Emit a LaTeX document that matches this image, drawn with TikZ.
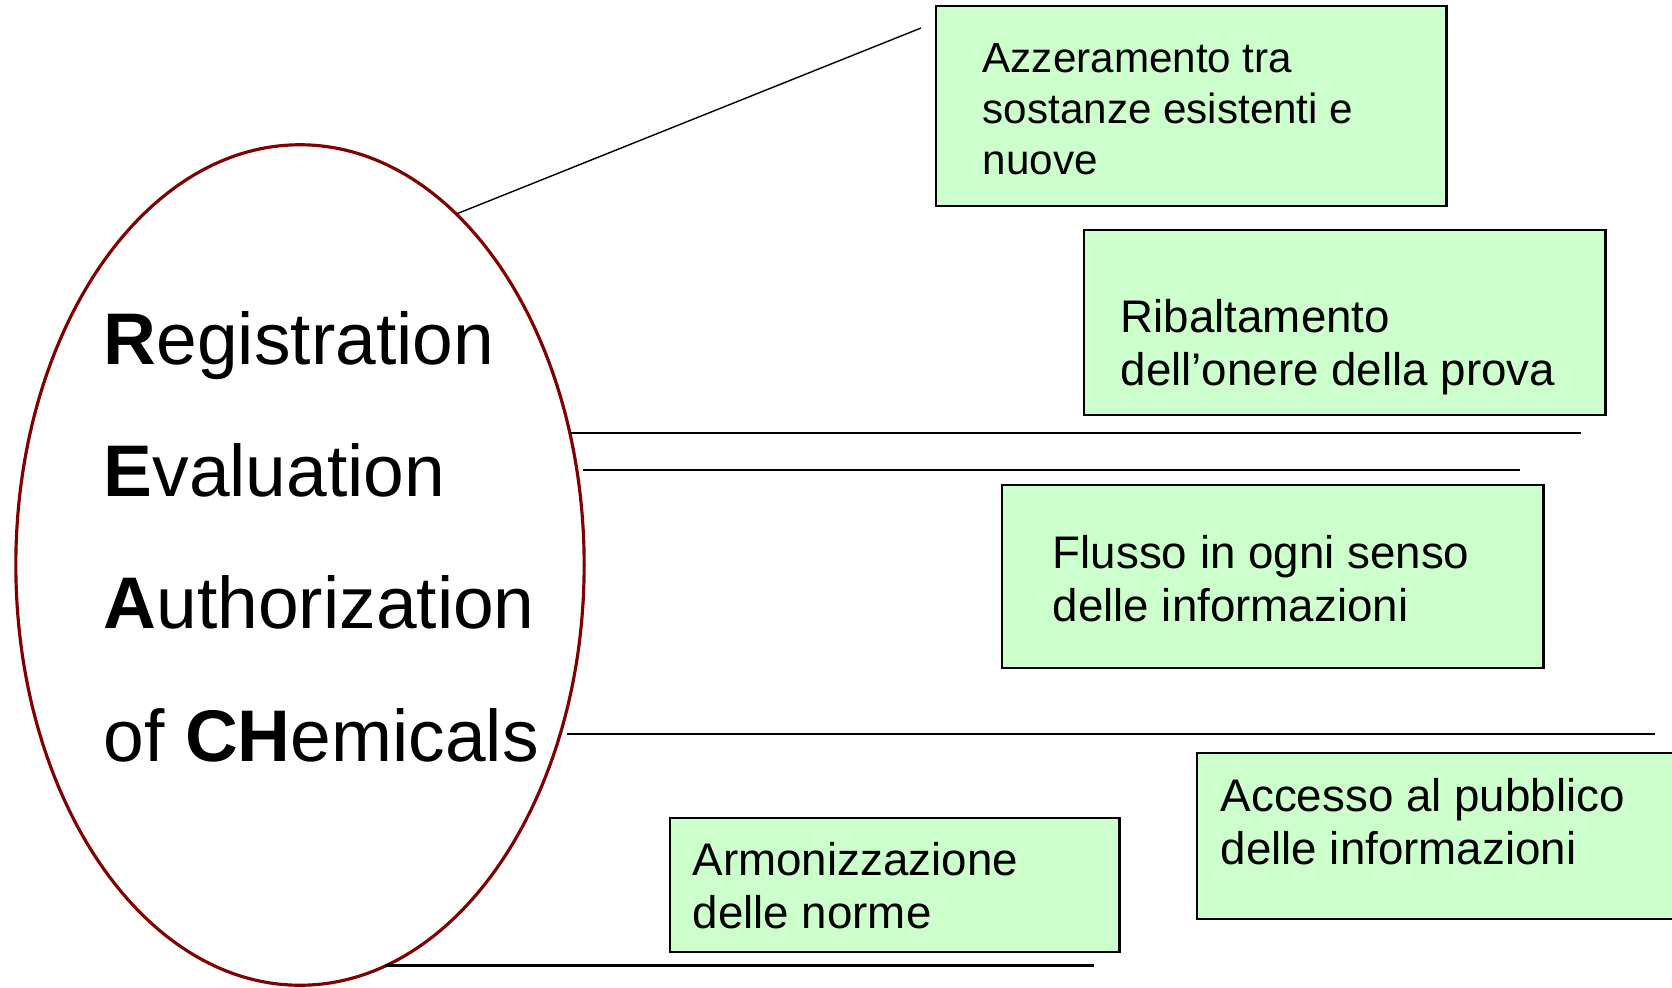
\documentclass[tikz,border=0pt]{standalone}
\usepackage{fontspec}
\setmainfont{Liberation Sans}
\usetikzlibrary{shapes.geometric}
\definecolor{boxgreen}{RGB}{204,255,204}
\definecolor{ovalred}{RGB}{128,0,0}
\tikzset{
  greenbox/.style={draw, fill=boxgreen, line width=0.7pt, anchor=north west, inner sep=0pt, outer sep=0pt},
  boxtext/.style={anchor=base west, align=left, inner sep=0pt, font=\fontsize{13}{14.8}\selectfont},
  acrotext/.style={anchor=base west, align=left, inner sep=0pt, font=\fontsize{20.8}{37.6}\selectfont},
  oval/.style={ellipse, draw=ovalred, line width=0.9pt, inner sep=0pt, outer sep=0pt},
  rule/.style={line width=0.6pt},
}
\begin{document}
\begin{tikzpicture}[x=0.01cm, y=-0.01cm]
                \clip (0,0) rectangle (1672,987);
                % the acronym
                \node [oval, minimum width=5.68cm, minimum height=8.40cm] (reach) at (300,565) {};
                \node [acrotext] (acro) at (103,761) {\textbf{R}egistration\\\textbf{E}valuation\\\textbf{A}uthorization\\of \textbf{CH}emicals};
        
                % boxes
                \node [greenbox, minimum width=5.10cm, minimum height=2.00cm] (azz) at (936,6) {};
                \node [greenbox, minimum width=5.21cm, minimum height=1.85cm] (rib) at (1084,230) {};
                \node [greenbox, minimum width=5.41cm, minimum height=1.83cm] (flu) at (1002,485) {};
                \node [greenbox, minimum width=5.10cm, minimum height=1.66cm] (acc) at (1197,753) {};
                \node [greenbox, minimum width=4.49cm, minimum height=1.34cm] (arm) at (670,818) {};
        
                \node [boxtext, font=\fontsize{12}{14.5}\selectfont] (azztxt) at (982,174) {Azzeramento tra\\sostanze esistenti e\\nuove};
                \node [boxtext] (ribtxt) at (1120,385) {Ribaltamento\\dell’onere della prova};
                \node [boxtext] (flutxt) at (1052,621) {Flusso in ogni senso\\delle informazioni};
                \node [boxtext] (acctxt) at (1220,864) {Accesso al pubblico\\delle informazioni};
                \node [boxtext] (armtxt) at (692,928) {Armonizzazione\\delle norme};
        
                % lines
                \coordinate (d0) at (921,28);
                \coordinate (h1) at (1581,431);
                \coordinate (h2) at (1520,469);
                \coordinate (h3) at (1655,736);
                \coordinate (h4) at (1094,968);
                \draw [line width=0.4pt] (reach.66.1) -- (d0);
                \draw [rule] (reach.26.7) -- (reach.26.7 -| h1);
                \draw [rule, shorten <=0.06cm] (reach.19.2) -- (reach.19.2 -| h2);
                \draw [rule, line width=0.8pt, shorten <=0.07cm] (reach.-33.4) -- (reach.-33.4 -| h3);
                \draw [rule, line width=0.8pt] (reach.-78.8) -- (reach.-78.8 -| h4);
            \end{tikzpicture}
\end{document}
